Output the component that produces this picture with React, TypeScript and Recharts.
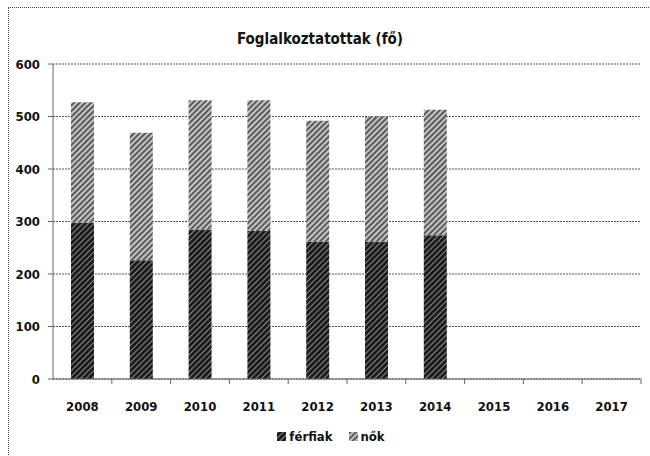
import { BarChart, Bar, XAxis, YAxis, CartesianGrid } from 'recharts';

const years = ['2008', '2009', '2010', '2011', '2012', '2013', '2014', '2015', '2016', '2017'];
const ferfiak = [298, 226, 285, 282, 262, 262, 274, null, null, null];
const nok = [229, 243, 246, 249, 230, 238, 239, null, null, null];
const yTicks = [0, 100, 200, 300, 400, 500, 600];

const data = years.map((year, i) => ({ year, ferfiak: ferfiak[i], nok: nok[i] }));

const FONT = '"DejaVu Sans Condensed", "DejaVu Sans", sans-serif';
const W = 650;
const H = 456;
const margin = { top: 64, right: 9, bottom: 0, left: 8 };
const yAxisWidth = 45;
const xAxisHeight = 40;
const chartHeight = H - 37;
const plotBottom = chartHeight - margin.bottom - xAxisHeight;
const catWidth = (W - margin.left - margin.right - yAxisWidth) / years.length;

const series = [
  { key: 'ferfiak', name: 'férfiak', fill: 'url(#patFerfiak)' },
  { key: 'nok', name: 'nők', fill: 'url(#patNok)' },
];

function XTick(props: any) {
  const { x, payload } = props;
  return (
    <g>
      <text x={x} y={plotBottom + 32} textAnchor="middle" fontFamily={FONT} fontWeight="bold" fontSize={13} fill="#111">
        {payload.value}
      </text>
      <line x1={x + catWidth / 2} x2={x + catWidth / 2} y1={plotBottom} y2={plotBottom + 5} stroke="#666" />
    </g>
  );
}

function LegendContent() {
  return (
    <div style={{ display: 'flex', justifyContent: 'center', gap: 16, fontFamily: FONT, fontWeight: 'bold', fontSize: 13, color: '#111' }}>
      {series.map((s) => (
        <span key={s.key} style={{ display: 'flex', alignItems: 'center', gap: 3 }}>
          <svg width={9} height={9}>
            <rect width={9} height={9} fill={s.fill} />
          </svg>
          {s.name}
        </span>
      ))}
    </div>
  );
}

export default function App() {
  return (
    <div style={{ position: 'fixed', left: 0, top: 0, width: W, height: H, background: '#fff', overflow: 'hidden' }}>
      <svg width={0} height={0} style={{ position: 'absolute' }}>
        <defs>
          <pattern id="patFerfiak" width={4} height={4} patternUnits="userSpaceOnUse" patternTransform="rotate(45)">
            <rect width={4} height={4} fill="#1c1c1c" />
            <rect width={1} height={4} fill="#8a8a8a" />
          </pattern>
          <pattern id="patNok" width={4} height={4} patternUnits="userSpaceOnUse" patternTransform="rotate(45)">
            <rect width={4} height={4} fill="#c4c4c4" />
            <rect width={2} height={4} fill="#5a5a5a" />
          </pattern>
        </defs>
      </svg>
      <div style={{ position: 'absolute', left: 8, top: 7, width: W - 8, height: H - 7, borderLeft: '1px dotted #444', borderTop: '1px dotted #444' }} />
      <div style={{ position: 'absolute', left: 0, top: 30, width: W - 10, textAlign: 'center', fontFamily: FONT, fontWeight: 'bold', fontSize: 15, color: '#111' }}>
        Foglalkoztatottak (fő)
      </div>
      <BarChart width={W} height={chartHeight} data={data} margin={margin} barSize={23} style={{ position: 'absolute', left: 0, top: 0 }}>
        <CartesianGrid vertical={false} stroke="#555" strokeDasharray="2 1" />
        <XAxis dataKey="year" height={xAxisHeight} axisLine={{ stroke: '#666' }} tickLine={false} tick={<XTick />} interval={0} />
        <YAxis
          width={yAxisWidth}
          domain={[0, 600]}
          ticks={yTicks}
          tickSize={5}
          tickMargin={8}
          axisLine={{ stroke: '#666' }}
          tickLine={{ stroke: '#666' }}
          tick={{ fontFamily: FONT, fontWeight: 'bold', fontSize: 13, fill: '#111' }}
        />
        {series.map((s) => (
          <Bar key={s.key} dataKey={s.key} name={s.name} stackId="a" fill={s.fill} isAnimationActive={false} />
        ))}
      </BarChart>
      <div style={{ position: 'absolute', left: 6, top: 429, width: W }}>
        <LegendContent />
      </div>
    </div>
  );
}
